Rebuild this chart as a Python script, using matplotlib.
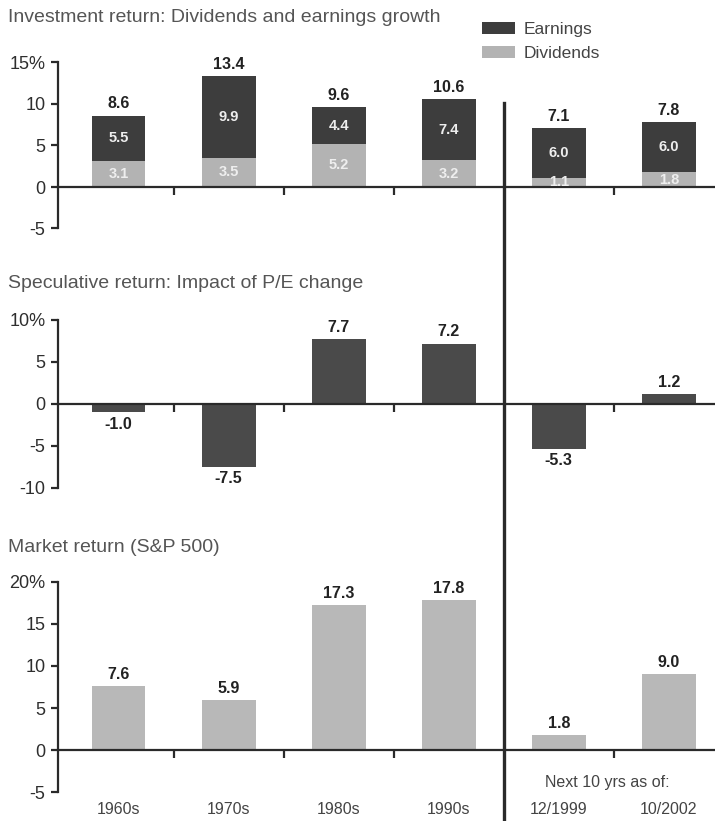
import numpy as np
import matplotlib
matplotlib.use('Agg')
import matplotlib.pyplot as plt
from matplotlib.lines import Line2D
from matplotlib import transforms

plt.rcParams['font.family'] = ['Liberation Sans', 'DejaVu Sans']

periods = ['1960s', '1970s', '1980s', '1990s', '12/1999', '10/2002']
dividends = [3.1, 3.5, 5.2, 3.2, 1.1, 1.8]
earnings = [5.5, 9.9, 4.4, 7.4, 6.0, 6.0]
speculative = [-1.0, -7.5, 7.7, 7.2, -5.3, 1.2]
market = [7.6, 5.9, 17.3, 17.8, 1.8, 9.0]

W, H = 715, 821
DARK = '#3d3d3d'
LIGHT = '#b3b3b3'
SPEC = '#4a4a4a'
MKT = '#b8b8b8'
INK = '#2a2a2a'

fig = plt.figure(figsize=(W / 100, H / 100), dpi=100)

x = np.arange(len(periods))
xlim = (-0.55, 5.42)
left_px, right_px = 58, 715


def make_axes(zero_px, px_per_unit, ylim, spine_lim, ticks):
    top_px = zero_px - ylim[1] * px_per_unit
    bot_px = zero_px - ylim[0] * px_per_unit
    ax = fig.add_axes([left_px / W, 1 - bot_px / H,
                       (right_px - left_px) / W, (bot_px - top_px) / H])
    ax.set_xlim(*xlim)
    ax.set_ylim(*ylim)
    for s in ['top', 'right']:
        ax.spines[s].set_visible(False)
    ax.spines['left'].set_bounds(*spine_lim)
    ax.spines['bottom'].set_position(('data', 0))
    for s in ['left', 'bottom']:
        ax.spines[s].set_linewidth(1.6)
        ax.spines[s].set_color(INK)
    ax.set_yticks(ticks)
    labels = [str(t) for t in ticks]
    labels[-1] = labels[-1] + '%'
    ax.set_yticklabels(labels)
    ax.set_xticks([0.5, 1.5, 2.5, 4.5])
    ax.set_xticklabels([])
    ax.tick_params(axis='y', length=5, width=1.6, color=INK, labelsize=13,
                   labelcolor='#2e2e2e', pad=4)
    ax.tick_params(axis='x', direction='out', length=6, width=1.6, color=INK)
    return ax


def label(ax, xv, yv, text, above=True, color='#222222', size=11.5):
    ax.annotate(text, (xv, yv), xytext=(0, 3 if above else -3),
                textcoords='offset points', ha='center',
                va='bottom' if above else 'top', fontsize=size,
                fontweight='bold', color=color)


# Investment return panel
ax1 = make_axes(187, 8.3, (-5.3, 18.5), (-5, 15), [-5, 0, 5, 10, 15])
b_div = ax1.bar(x, dividends, width=0.49, color=LIGHT, label='Dividends')
b_earn = ax1.bar(x, earnings, width=0.49, bottom=dividends, color=DARK,
                 label='Earnings')
for i in range(len(periods)):
    total = dividends[i] + earnings[i]
    label(ax1, x[i], total, f'{total:.1f}')
    ax1.text(x[i], dividends[i] / 2, f'{dividends[i]:.1f}', ha='center',
             va='center', fontsize=10.5, fontweight='bold', color='#eeeeee')
    ax1.text(x[i], dividends[i] + earnings[i] / 2, f'{earnings[i]:.1f}',
             ha='center', va='center', fontsize=10.5, fontweight='bold',
             color='#eeeeee')

# Speculative return panel
ax2 = make_axes(404, 8.4, (-10.3, 12.5), (-10, 10), [-10, -5, 0, 5, 10])
ax2.bar(x, speculative, width=0.49, color=SPEC)
for i, v in enumerate(speculative):
    label(ax2, x[i], v, f'{v:.1f}', above=v >= 0)

# Market return panel
ax3 = make_axes(750, 8.4, (-5.3, 23), (-5, 20), [-5, 0, 5, 10, 15, 20])
ax3.bar(x, market, width=0.49, color=MKT)
for i, v in enumerate(market):
    label(ax3, x[i], v, f'{v:.1f}')
for i, p in enumerate(periods):
    ax3.text(x[i], -7.1, p, ha='center', va='center', fontsize=11.5,
             color='#444444', clip_on=False)
ax3.text(4.44, -3.9, 'Next 10 yrs as of:', ha='center', va='center',
         fontsize=11.5, color='#444444', clip_on=False)

# panel titles
titles = [('Investment return: Dividends and earnings growth', 18),
          ('Speculative return: Impact of P/E change', 283),
          ('Market return (S&P 500)', 548)]
for t, ypx in titles:
    fig.text(8 / W, 1 - ypx / H, t, ha='left', va='center', fontsize=14,
             color='#555555')

fig.legend(handles=[b_earn, b_div], labels=['Earnings', 'Dividends'],
           loc='upper left', bbox_to_anchor=(466 / W, 1 - 6 / H),
           frameon=False, fontsize=12.5, handlelength=1.9, handleheight=0.7,
           handletextpad=0.5, labelspacing=0.55, labelcolor='#444444')

# divider between history and forecasts
trans = transforms.blended_transform_factory(ax3.transData, fig.transFigure)
fig.add_artist(Line2D([3.5, 3.5], [1 - 103 / H, 1 - 819 / H],
                      transform=trans, color=INK, linewidth=2.4))

fig.savefig('out.png', dpi=100)
